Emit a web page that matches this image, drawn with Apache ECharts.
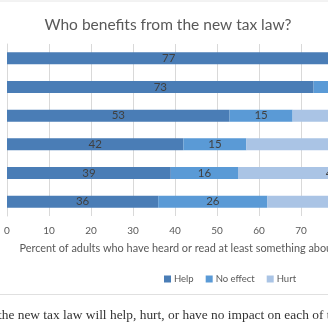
<!DOCTYPE html>
<html><head><meta charset="utf-8">
<script src="https://cdn.jsdelivr.net/npm/echarts@6/dist/echarts.min.js"></script>
<style>html,body{margin:0;padding:0;overflow:hidden;background:#fff;width:328px;height:328px}#c{width:440px;height:328px}</style>
</head><body><div id="c"></div>
<script>
const categories = ["Large corporations","Wealthy people","The economy","Middle class","You and your family","Lower income people"];
const helpVals = [77, 73, 53, 42, 39, 36];
const noEffectVals = [9, 12, 15, 15, 16, 26];
const hurtVals = [12, 13, 30, 43, 45, 36];
const xTicks = [0,10,20,30,40,50,60,70,80,90,100];
const seriesNames = ["Help","No effect","Hurt"];
const colors = ["#4a7db6","#5a9ad6","#aac4e5"];
const chart = echarts.init(document.getElementById('c'), null, {renderer:'canvas'});
const lbl = {show:true, position:'inside', color:'#404040', fontSize:11.5, fontFamily:'Lato'};
const vals = [helpVals, noEffectVals, hurtVals];
chart.setOption({
  animation:false,
  textStyle:{fontFamily:'Lato'},
  title:{text:'Who benefits from the new tax law?', left:163, top:12, textAlign:'center',
    textStyle:{fontSize:15.5, fontWeight:'normal', color:'#595959', fontFamily:'Lato'}},
  legend:{data:seriesNames, left:159, top:269, itemWidth:7, itemHeight:7, itemGap:12, icon:'rect',
    textStyle:{fontSize:9.5, color:'#595959', fontFamily:'Lato', padding:[0,0,0,-2]}},
  grid:{left:7, top:44, width:420, height:172},
  xAxis:{type:'value', min:0, max:100, interval:10,
    axisLine:{show:false}, axisTick:{show:false},
    axisLabel:{color:'#595959', fontSize:10, margin:10, formatter:(v)=> xTicks.includes(v)? String(v):''},
    splitLine:{lineStyle:{color:'#d9d9d9'}},
    name:'Percent of adults who have heard or read at least something about the new tax law',
    nameLocation:'middle', nameGap:27, nameTextStyle:{color:'#595959', fontSize:10.9, fontFamily:'Lato'}},
  yAxis:{type:'category', data:categories, inverse:true,
    axisLine:{show:true, lineStyle:{color:'#d9d9d9'}}, axisTick:{show:false}, axisLabel:{show:false}},
  graphic:[
    {type:'line', shape:{x1:0,y1:1,x2:328,y2:1}, style:{stroke:'#e6e6e6', lineWidth:1}},
    {type:'line', shape:{x1:0,y1:294.5,x2:328,y2:294.5}, style:{stroke:'#e0e0e0', lineWidth:1}},
    {type:'text', left:-2, top:309, style:{text:'the new tax law will help, hurt, or have no impact on each of the following', fill:'#333', font:'13.4px "Liberation Serif"'}}
  ],
  series: seriesNames.map((n,i)=>({name:n, type:'bar', stack:'t', data:vals[i], barWidth:12,
    itemStyle:{color:colors[i]}, label:lbl}))
});
</script></body></html>
